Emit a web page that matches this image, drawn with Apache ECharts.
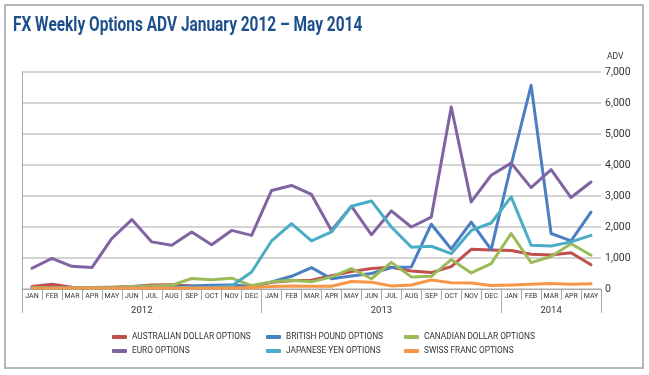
<!DOCTYPE html>
<html>
<head>
<meta charset="utf-8">
<script src="https://cdn.jsdelivr.net/npm/echarts@6/dist/echarts.min.js"></script>
<style>
  html, body { margin: 0; padding: 0; background: #fff; }
  #chart { width: 649px; height: 375px; }
</style>
</head>
<body>
<div id="chart"></div>
<script>
const months = ['JAN', 'FEB', 'MAR', 'APR', 'MAY', 'JUN', 'JUL', 'AUG', 'SEP', 'OCT', 'NOV', 'DEC',
  'JAN', 'FEB', 'MAR', 'APR', 'MAY', 'JUN', 'JUL', 'AUG', 'SEP', 'OCT', 'NOV', 'DEC',
  'JAN', 'FEB', 'MAR', 'APR', 'MAY'];
const years = ['2012', '2013', '2014'];
const yearMonthCounts = [12, 12, 5];

const audOptions = [80, 150, 60, 50, 60, 80, 130, 140, 100, 80, 100, 80,
  220, 270, 280, 430, 560, 660, 700, 580, 530, 720, 1280, 1260,
  1240, 1120, 1100, 1170, 780];
const gbpOptions = [50, 50, 50, 40, 50, 50, 60, 60, 100, 120, 130, 80,
  230, 410, 690, 330, 420, 500, 690, 710, 2090, 1290, 2160, 1270,
  4000, 6570, 1790, 1550, 2480];
const cadOptions = [30, 30, 30, 40, 50, 80, 100, 120, 340, 300, 350, 110,
  230, 280, 230, 390, 660, 330, 860, 390, 410, 950, 520, 820,
  1790, 850, 1050, 1460, 1090];
const eurOptions = [670, 990, 730, 690, 1630, 2240, 1520, 1410, 1840, 1430, 1890, 1730,
  3180, 3340, 3050, 1890, 2670, 1750, 2520, 2000, 2320, 5870, 2810, 3670,
  4060, 3270, 3850, 2950, 3450];
const jpyOptions = [30, 30, 30, 30, 40, 40, 40, 40, 50, 50, 100, 550,
  1550, 2110, 1550, 1840, 2670, 2840, 2000, 1350, 1380, 1140, 1890, 2130,
  2970, 1410, 1390, 1520, 1730];
const chfOptions = [30, 30, 30, 30, 30, 30, 30, 30, 30, 30, 30, 50,
  80, 100, 90, 90, 240, 220, 100, 130, 290, 200, 190, 110,
  130, 150, 180, 150, 170];

const yTicks = { min: 0, max: 7000, interval: 1000 };

const yearEdges = [0];
yearMonthCounts.forEach(function (n, i) { yearEdges.push(yearEdges[i] + n); });
const yearCenters = years.map(function (y, i) { return (yearEdges[i] + yearEdges[i + 1]) / 2; });

const font = 'Roboto, "Liberation Sans", sans-serif';
const gray = '#a9a9a9';

const lineSeries = {
  type: 'line',
  showSymbol: false,
  symbol: 'none',
  xAxisIndex: 0,
  lineStyle: { width: 3, cap: 'round', join: 'round' }
};

const legendBase = {
  orient: 'vertical',
  top: 333,
  padding: 0,
  itemGap: 6,
  itemWidth: 15,
  itemHeight: 4,
  icon: 'roundRect',
  textStyle: { color: '#333', fontSize: 8.3, fontFamily: font },
  selectedMode: false
};

const chart = echarts.init(document.getElementById('chart'));
const option = {
  animation: false,
  color: ['#c0504d', '#4a7fc1', '#9bbb59', '#8064a2', '#4bacc6', '#f79646'],
  title: {
    // unit caption above the right-hand value axis
    text: 'ADV',
    left: 607,
    top: 52,
    padding: 0,
    textStyle: { color: '#333', fontSize: 8.5, fontWeight: 'normal', fontFamily: font }
  },
  graphic: [
    {
      type: 'rect',
      shape: { x: 5, y: 5, width: 638, height: 363 },
      style: { fill: 'none', stroke: '#b8b8b8', lineWidth: 2 },
      silent: true
    },
    {
      // condensed headline: no narrow face installed, so squeeze Roboto bold
      type: 'text',
      x: 13,
      y: 15,
      scaleX: 0.735,
      style: {
        text: 'FX Weekly Options ADV January 2012 – May 2014',
        fill: '#1d4f8c',
        font: 'bold 21px ' + font
      },
      silent: true
    }
  ],
  legend: [
    { ...legendBase, left: 112, data: ['AUSTRALIAN DOLLAR OPTIONS', 'EURO OPTIONS'] },
    { ...legendBase, left: 266, data: ['BRITISH POUND OPTIONS', 'JAPANESE YEN OPTIONS'] },
    { ...legendBase, left: 404, data: ['CANADIAN DOLLAR OPTIONS', 'SWISS FRANC OPTIONS'] }
  ],
  grid: { left: 22, right: 48, top: 72, bottom: 86 },
  xAxis: [
    {
      type: 'category',
      data: months,
      boundaryGap: true,
      axisLine: { lineStyle: { color: gray, width: 1 } },
      axisTick: { show: true, interval: 0, length: 11, lineStyle: { color: gray } },
      axisLabel: { interval: 0, margin: 4, fontSize: 7, color: '#333', fontFamily: font },
      splitLine: { show: false }
    },
    {
      type: 'value',
      min: 0,
      max: months.length,
      position: 'bottom',
      axisLine: { show: false },
      splitLine: { show: false },
      axisTick: { show: true, length: 24, customValues: yearEdges, lineStyle: { color: gray } },
      axisLabel: {
        customValues: yearCenters,
        margin: 17,
        fontSize: 9.5,
        color: '#333',
        fontFamily: font,
        formatter: function (v) { return years[yearCenters.indexOf(v)] || ''; }
      }
    }
  ],
  yAxis: {
    type: 'value',
    position: 'right',
    ...yTicks,
    axisLine: { show: true, lineStyle: { color: gray, width: 1 } },
    axisTick: { show: false },
    axisLabel: {
      margin: 4,
      fontSize: 10.5,
      color: '#333',
      fontFamily: font,
      formatter: function (v) { return v.toLocaleString('en-US'); }
    },
    splitLine: { lineStyle: { color: '#c6c6c6', width: 1.5 } }
  },
  series: [
    { ...lineSeries, name: 'AUSTRALIAN DOLLAR OPTIONS', data: audOptions },
    { ...lineSeries, name: 'BRITISH POUND OPTIONS', data: gbpOptions },
    { ...lineSeries, name: 'CANADIAN DOLLAR OPTIONS', data: cadOptions },
    { ...lineSeries, name: 'EURO OPTIONS', data: eurOptions },
    { ...lineSeries, name: 'JAPANESE YEN OPTIONS', data: jpyOptions },
    { ...lineSeries, name: 'SWISS FRANC OPTIONS', data: chfOptions }
  ]
};
chart.setOption(option);
</script>
</body>
</html>
